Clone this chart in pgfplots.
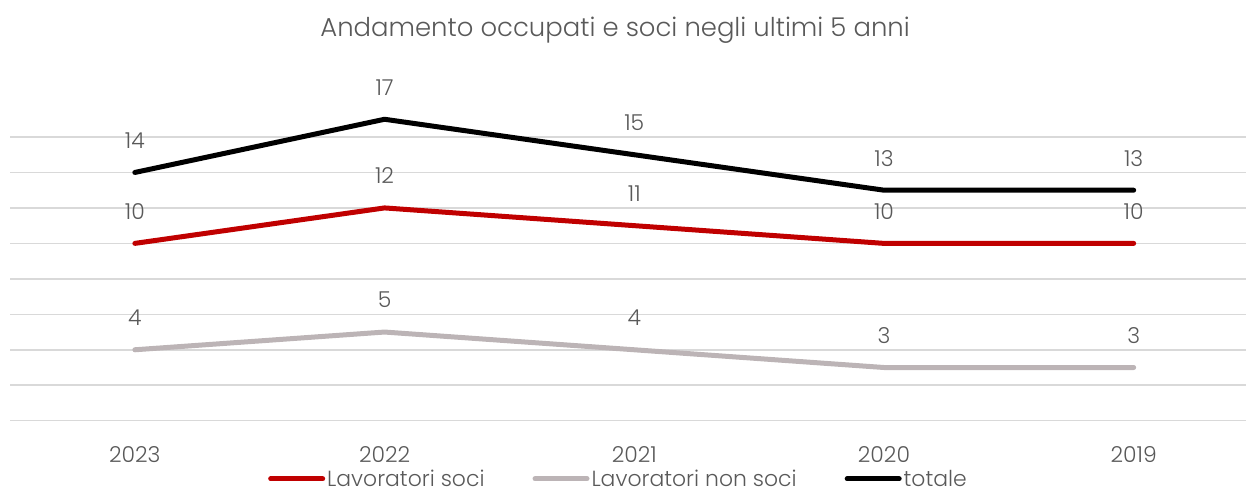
\documentclass[border=0pt]{standalone}
\usepackage{pgfplots}
\pgfplotsset{compat=1.18}
\usepackage{fontspec}
\setmainfont{Poppins Light}
\definecolor{rosso}{RGB}{192,0,0}
\definecolor{grigio}{RGB}{188,180,182}
\definecolor{griglia}{RGB}{217,217,217}
\definecolor{testo}{RGB}{89,89,89}

\begin{document}
\begin{tikzpicture}
\path[use as bounding box] (0,0) rectangle (1246bp,494bp);
\begin{axis}[
  at={(10bp,73.3bp)}, anchor=south west,
  scale only axis, width=1236bp, height=283.7bp,
  xmin=-0.5, xmax=4.45, ymin=0, ymax=16,
  axis line style={draw=none},
  ytick={0,2,...,16}, yticklabels={},
  ymajorgrids, grid style={griglia, line width=1.5bp},
  xtick={0,...,4}, xticklabels={2023,2022,2021,2020,2019},
  major tick length=0pt,
  clip=false,
  /pgf/number format/assume math mode=true,
  xticklabel style={font=\fontsize{22}{26}\selectfont, text=testo, anchor=center, yshift=-34bp},
  title={Andamento occupati e soci negli ultimi 5 anni},
  title style={at={(0.4895,1.356)}, anchor=center, font=\fontsize{26}{30}\selectfont, text=testo},
  every node near coord/.append style={anchor=center, yshift=32bp, font=\fontsize{22}{26}\selectfont, text=testo},
  legend columns=3,
  legend style={at={(0.4923,-0.205)}, anchor=center, draw=none, fill=none,
    font=\fontsize{22}{26}\selectfont, text=testo,
    nodes={inner sep=2bp},
    /tikz/every even column/.append style={column sep=46bp}},
  legend image code/.code={\draw[#1, line width=5bp, line cap=round] (0bp,0bp) -- (52bp,0bp);},
]
\addplot[rosso, line width=5bp, line cap=round, line join=round, nodes near coords]
  coordinates {(0,10) (1,12) (2,11) (3,10) (4,10)};
\addlegendentry{Lavoratori soci}
\addplot[grigio, line width=5bp, line cap=round, line join=round, nodes near coords]
  coordinates {(0,4) (1,5) (2,4) (3,3) (4,3)};
\addlegendentry{Lavoratori non soci}
\addplot[black, line width=5bp, line cap=round, line join=round, nodes near coords]
  coordinates {(0,14) (1,17) (2,15) (3,13) (4,13)};
\addlegendentry{totale}
\end{axis}
\end{tikzpicture}
\end{document}
